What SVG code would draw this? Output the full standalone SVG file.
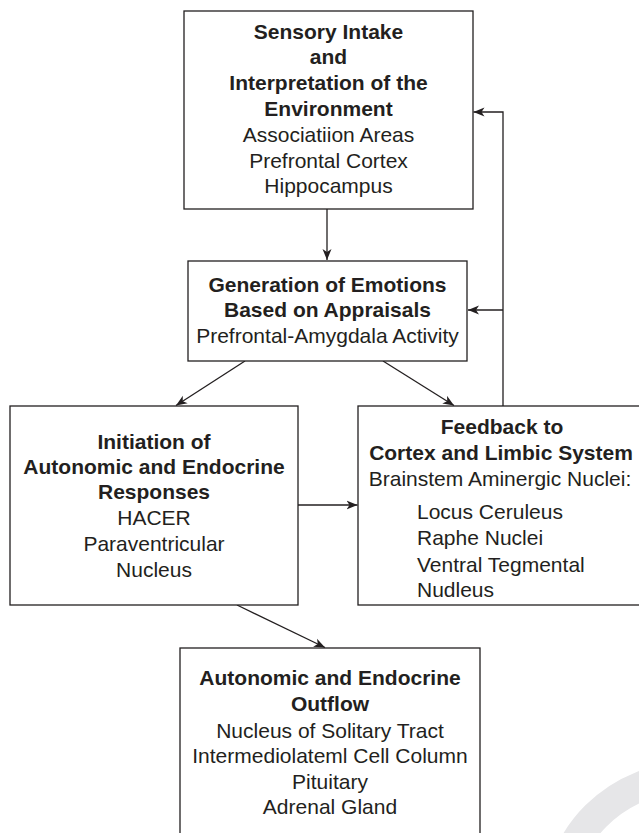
<svg xmlns="http://www.w3.org/2000/svg" width="639" height="833" viewBox="0 0 639 833">
<style>
.box{fill:#fff;stroke:#231f20;stroke-width:1.3}
.b{font-family:"Liberation Sans",Arial,sans-serif;font-size:21px;font-weight:bold;fill:#231f20;text-anchor:middle}
.r{font-family:"Liberation Sans",Arial,sans-serif;font-size:21px;fill:#231f20;text-anchor:middle}
.l{font-family:"Liberation Sans",Arial,sans-serif;font-size:21px;fill:#231f20;text-anchor:start}
.c{fill:none;stroke:#231f20;stroke-width:1.3}
</style>
<defs>
<marker id="ah" markerWidth="12" markerHeight="10" refX="11" refY="5" orient="auto" markerUnits="userSpaceOnUse">
<path d="M0,0.5 L11,5 L0,9.5 L3,5 Z" fill="#231f20"/>
</marker>
</defs>
<rect width="639" height="833" fill="#fff"/>
<circle cx="690" cy="910" r="133" fill="none" stroke="#e6e6e8" stroke-width="30"/>
<g id="connectors">
<line class="c" x1="327" y1="209" x2="327" y2="260" marker-end="url(#ah)"/>
<polyline class="c" points="503,406 503,112 473.5,112" marker-end="url(#ah)"/>
<line class="c" x1="503" y1="310" x2="468" y2="310" marker-end="url(#ah)"/>
<line class="c" x1="245" y1="361" x2="176" y2="405.5" marker-end="url(#ah)"/>
<line class="c" x1="383" y1="361" x2="454" y2="405.5" marker-end="url(#ah)"/>
<line class="c" x1="298" y1="505" x2="357.5" y2="505" marker-end="url(#ah)"/>
<line class="c" x1="237" y1="605" x2="325" y2="647.5" marker-end="url(#ah)"/>
</g>
<g id="sensory">
<rect class="box" x="184" y="11" width="289" height="198"/>
<text class="b" x="328.5" y="39">Sensory Intake</text>
<text class="b" x="328.5" y="64">and</text>
<text class="b" x="328.5" y="90">Interpretation of the</text>
<text class="b" x="328.5" y="116">Environment</text>
<text class="r" x="328.5" y="142">Associatiion Areas</text>
<text class="r" x="328.5" y="168">Prefrontal Cortex</text>
<text class="r" x="328.5" y="193">Hippocampus</text>
</g>
<g id="generation">
<rect class="box" x="188" y="261" width="279" height="100"/>
<text class="b" x="327.5" y="292">Generation of Emotions</text>
<text class="b" x="327.5" y="317">Based on Appraisals</text>
<text class="r" x="327.5" y="343">Prefrontal-Amygdala Activity</text>
</g>
<g id="initiation">
<rect class="box" x="10" y="406" width="288" height="199"/>
<text class="b" x="154" y="449">Initiation of</text>
<text class="b" x="154" y="474">Autonomic and Endocrine</text>
<text class="b" x="154" y="499">Responses</text>
<text class="r" x="154" y="525">HACER</text>
<text class="r" x="154" y="551">Paraventricular</text>
<text class="r" x="154" y="577">Nucleus</text>
</g>
<g id="feedback">
<rect class="box" x="358" y="406" width="283" height="199"/>
<text class="b" x="502" y="434">Feedback to</text>
<text class="b" x="501" y="460">Cortex and Limbic System</text>
<text class="r" x="500" y="486">Brainstem Aminergic Nuclei:</text>
<text class="l" x="417" y="519">Locus Ceruleus</text>
<text class="l" x="417" y="545">Raphe Nuclei</text>
<text class="l" x="417" y="572">Ventral Tegmental</text>
<text class="l" x="417" y="597">Nudleus</text>
</g>
<g id="outflow">
<rect class="box" x="180" y="648" width="300" height="200"/>
<text class="b" x="330" y="685">Autonomic and Endocrine</text>
<text class="b" x="330" y="711">Outflow</text>
<text class="r" x="330" y="738">Nucleus of Solitary Tract</text>
<text class="r" x="330" y="763">Intermediolateml Cell Column</text>
<text class="r" x="330" y="789">Pituitary</text>
<text class="r" x="330" y="814">Adrenal Gland</text>
</g>
</svg>
